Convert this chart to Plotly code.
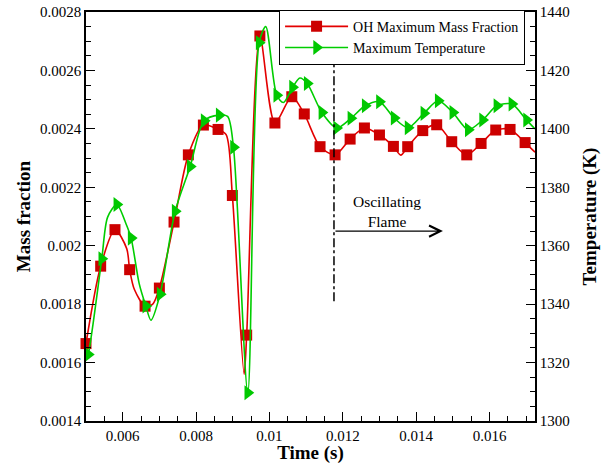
import plotly.graph_objects as go

# ---------------- data ----------------
# OH maximum mass fraction: marker points
oh_t = [0.00500, 0.00540, 0.00579, 0.00619, 0.00661, 0.00700, 0.00740, 0.00779, 0.00820, 0.00860,
        0.00899, 0.00938, 0.00974, 0.01015, 0.01061, 0.01095, 0.01138, 0.01179, 0.01220, 0.01259,
        0.01300, 0.01338, 0.01377, 0.01418, 0.01456, 0.01497, 0.01538, 0.01577, 0.01617, 0.01656,
        0.01697]
oh_val = [0.001665, 0.001930, 0.002055, 0.001918, 0.001793, 0.001855, 0.002081, 0.002311, 0.002413, 0.002398,
          0.002172, 0.001694, 0.002718, 0.002420, 0.002510, 0.002451, 0.002339, 0.002311, 0.002365, 0.002403,
          0.002379, 0.002340, 0.002339, 0.002394, 0.002414, 0.002356, 0.002311, 0.002350, 0.002396, 0.002398,
          0.002353]
# OH curve points between markers
oh_curve_t = [0.00611, 0.00632, 0.00682, 0.00882, 0.00931, 0.01358, 0.01724]
oh_curve_val = [0.001990, 0.001850, 0.001800, 0.002380, 0.001560, 0.002310, 0.002320]

# Maximum temperature: marker points
temp_t = [0.00506, 0.00543, 0.00584, 0.00623, 0.00663, 0.00702, 0.00743, 0.00784, 0.00822, 0.00863,
          0.00902, 0.00941, 0.00972, 0.01020, 0.01063, 0.01103, 0.01143, 0.01183, 0.01222, 0.01261,
          0.01300, 0.01340, 0.01378, 0.01421, 0.01460, 0.01500, 0.01542, 0.01581, 0.01620, 0.01661,
          0.01701]
temp_val = [1322.8, 1355.5, 1374.1, 1362.6, 1339.4, 1343.4, 1371.8, 1387.1, 1402.8, 1404.7,
            1393.7, 1309.7, 1429.5, 1411.5, 1414.2, 1415.5, 1405.6, 1400.3, 1403.6, 1407.9,
            1409.3, 1403.7, 1400.4, 1405.3, 1409.6, 1405.6, 1399.7, 1403.0, 1407.9, 1408.5,
            1403.0]
# temperature curve points between markers
temp_curve_t = [0.00500, 0.00559, 0.00609, 0.00645, 0.00677, 0.00886, 0.00990, 0.01038, 0.01083, 0.01724]
temp_curve_val = [1321.0, 1369.8, 1367.5, 1347.0, 1334.5, 1404.3, 1435.0, 1409.0, 1417.4, 1400.0]

# ticks
x_tickvals = [0.006, 0.008, 0.010, 0.012, 0.014, 0.016]
x_ticktext = ["0.006", "0.008", "0.01", "0.012", "0.014", "0.016"]
y_tickvals = [0.0014, 0.0016, 0.0018, 0.0020, 0.0022, 0.0024, 0.0026, 0.0028]
y_ticktext = ["0.0014", "0.0016", "0.0018", "0.002", "0.0022", "0.0024", "0.0026", "0.0028"]
y2_tickvals = [1300, 1320, 1340, 1360, 1380, 1400, 1420, 1440]

# annotation values
onset_t = 0.01176
onset_span = [0.00181, 0.00263]
arrow_y = 0.00205
arrow_end_t = 0.01473
label_t = 0.01321
label_y = 0.002118

# ---------------- figure ----------------
FONT = "Liberation Serif, Times New Roman, serif"
RED_L, RED_M = "rgb(228,0,0)", "rgb(204,0,0)"
GRN_L, GRN_M = "rgb(0,205,0)", "rgb(0,200,0)"


def merged(t1, v1, t2, v2):
    pts = sorted(zip(list(t1) + list(t2), list(v1) + list(v2)))
    return [p[0] for p in pts], [p[1] for p in pts]


oh_lt, oh_lv = merged(oh_t, oh_val, oh_curve_t, oh_curve_val)
tp_lt, tp_lv = merged(temp_t, temp_val, temp_curve_t, temp_curve_val)

fig = go.Figure()
fig.add_trace(go.Scatter(x=oh_lt, y=oh_lv, mode="lines", line=dict(color=RED_L, width=1.6, shape="spline", smoothing=0.8),
                         showlegend=False, hoverinfo="skip"))
fig.add_trace(go.Scatter(x=oh_t, y=oh_val, mode="markers", marker=dict(symbol="square", size=11, color=RED_M),
                         showlegend=False, cliponaxis=False))
fig.add_trace(go.Scatter(x=tp_lt, y=tp_lv, mode="lines", line=dict(color=GRN_L, width=1.6, shape="spline", smoothing=0.8),
                         showlegend=False, hoverinfo="skip", yaxis="y2"))
fig.add_trace(go.Scatter(x=temp_t, y=temp_val, mode="markers", marker=dict(symbol="triangle-right", size=13, color=GRN_M),
                         showlegend=False, cliponaxis=False, yaxis="y2"))
# legend entries
fig.add_trace(go.Scatter(x=[None], y=[None], mode="lines+markers", name="OH Maximum Mass Fraction",
                         line=dict(color=RED_L, width=1.6), marker=dict(symbol="square", size=11, color=RED_M)))
fig.add_trace(go.Scatter(x=[None], y=[None], mode="lines+markers", name="Maximum Temperature",
                         line=dict(color=GRN_L, width=1.6), marker=dict(symbol="triangle-right", size=13, color=GRN_M)))

fig.add_shape(type="line", x0=onset_t, x1=onset_t, y0=onset_span[0], y1=onset_span[1], xref="x", yref="y",
              line=dict(color="black", width=1.5, dash="dashdot"))
fig.add_annotation(x=arrow_end_t, y=arrow_y, ax=onset_t, ay=arrow_y, xref="x", yref="y", axref="x", ayref="y",
                   text="", showarrow=True, arrowhead=5, arrowsize=1.6, arrowwidth=1.4, arrowcolor="black")
fig.add_annotation(x=label_t, y=label_y, text="Oscillating<br>Flame", showarrow=False, xref="x", yref="y",
                   font=dict(family=FONT, size=15.5, color="black"))

axis_common = dict(showline=True, linecolor="black", linewidth=1.5, ticks="inside", ticklen=9, tickwidth=1.2,
                   tickcolor="black", showgrid=False, zeroline=False, automargin=False,
                   tickfont=dict(family=FONT, size=15, color="black"))

TITLE_FONT = dict(family=FONT, size=19, color="black")

fig.update_layout(
    width=613, height=464,
    margin=dict(l=86, r=78, t=11, b=43),
    paper_bgcolor="white", plot_bgcolor="white",
    xaxis=dict(range=[0.005, 0.01724], tickmode="array", tickvals=x_tickvals, ticktext=x_ticktext, mirror=True,
               minor=dict(ticks="inside", ticklen=5, dtick=0.0005, tick0=0.005, tickcolor="black", tickwidth=1),
               title=dict(text="<b>Time (s)</b>", font=TITLE_FONT, standoff=0),
               **axis_common),
    yaxis=dict(range=[0.0014, 0.0028], tickmode="array", tickvals=y_tickvals, ticktext=y_ticktext,
               minor=dict(ticks="inside", ticklen=5, dtick=0.00005, tick0=0.0014, tickcolor="black", tickwidth=1),
               title=dict(text="<b>Mass fraction</b>", font=TITLE_FONT, standoff=4),
               **axis_common),
    yaxis2=dict(range=[1300, 1440], overlaying="y", side="right", tickmode="array", tickvals=y2_tickvals,
                minor=dict(ticks="inside", ticklen=5, dtick=5, tick0=1300, tickcolor="black", tickwidth=1),
                title=dict(text="<b>Temperature (K)</b>", font=TITLE_FONT, standoff=14),
                **axis_common),
    legend=dict(x=0.43, y=1.003, xanchor="left", yanchor="top", bgcolor="white", bordercolor="black", borderwidth=1,
                font=dict(family=FONT, size=14, color="black"), itemwidth=63, tracegroupgap=0),
)

fig.write_html("out.html")
